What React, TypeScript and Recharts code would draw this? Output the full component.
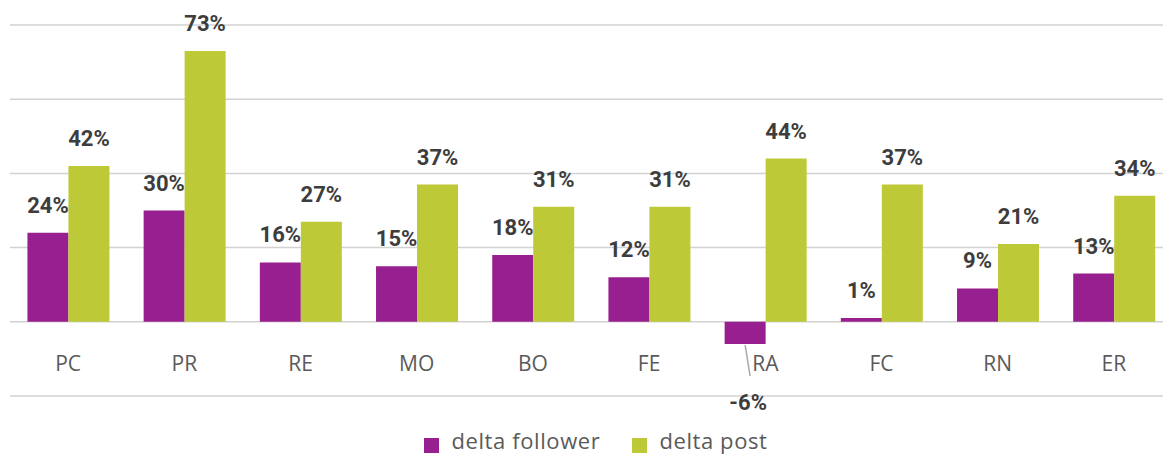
import { BarChart, Bar, XAxis, YAxis, CartesianGrid, Legend, LabelList } from "recharts";

const categories = ["PC", "PR", "RE", "MO", "BO", "FE", "RA", "FC", "RN", "ER"];
const deltaFollower = [24, 30, 16, 15, 18, 12, -6, 1, 9, 13];
const deltaPost = [42, 73, 27, 37, 31, 31, 44, 37, 21, 34];
const yTicks = [-20, 0, 20, 40, 60, 80];

const PURPLE = "#981F8F";
const GREEN = "#BDC937";

const data = categories.map((name, i) => ({
  name,
  follower: deltaFollower[i],
  post: deltaPost[i],
}));

function ValueLabel(props: any) {
  const { x, y, width, height, value } = props;
  const cx = x + width / 2;
  const top = Math.min(y, y + height);
  const bottom = Math.max(y, y + height);
  const style = { fontFamily: "Roboto", fontWeight: 700, fontSize: 22, fill: "#3d3d3d" };
  if (value < 0) {
    return (
      <g>
        <line x1={cx} y1={bottom + 1} x2={cx + 5} y2={bottom + 32} stroke="#aaa" strokeWidth={1.5} />
        <text x={cx + 3} y={bottom + 66} textAnchor="middle" style={style}>
          {value}%
        </text>
      </g>
    );
  }
  return (
    <text x={cx} y={top - 20} textAnchor="middle" style={style}>
      {value}%
    </text>
  );
}

function CategoryTick(props: any) {
  const { x, y, payload } = props;
  return (
    <text
      x={x}
      y={y - 25}
      textAnchor="middle"
      style={{ fontFamily: "Open Sans", fontWeight: 400, fontSize: 21, fill: "#5a5a5a" }}
    >
      {payload.value}
    </text>
  );
}

export default function App() {
  return (
    <div style={{ position: "absolute", left: 0, top: 0, width: 1163, height: 454, overflow: "hidden", background: "#fff" }}>
      <BarChart
        width={1172}
        height={454}
        data={data}
        margin={{ top: 25, right: 0, left: 10, bottom: 28 }}
        barCategoryGap="15%"
        barGap={0}
      >
        <CartesianGrid vertical={false} stroke="#d2d2d2" strokeWidth={1.5} />
        <XAxis
          dataKey="name"
          height={30}
          axisLine={false}
          tickLine={false}
          tickSize={0}
          tickMargin={0}
          tick={<CategoryTick />}
          interval={0}
        />
        <YAxis hide domain={[-20, 80]} ticks={yTicks} />
        <Legend
          verticalAlign="middle"
          align="center"
          iconType="square"
          iconSize={15}
          wrapperStyle={{ top: 425, left: 26, width: 1172 }}
          formatter={(v: string) => (
            <span
              style={{
                color: "#5a5a5a",
                fontFamily: "Open Sans",
                fontSize: 22,
                letterSpacing: 0.6,
                marginLeft: 8,
                marginRight: 22,
              }}
            >
              {v}
            </span>
          )}
        />
        <Bar dataKey="follower" name="delta follower" fill={PURPLE} isAnimationActive={false}>
          <LabelList dataKey="follower" content={<ValueLabel />} />
        </Bar>
        <Bar dataKey="post" name="delta post" fill={GREEN} isAnimationActive={false}>
          <LabelList dataKey="post" content={<ValueLabel />} />
        </Bar>
      </BarChart>
    </div>
  );
}
